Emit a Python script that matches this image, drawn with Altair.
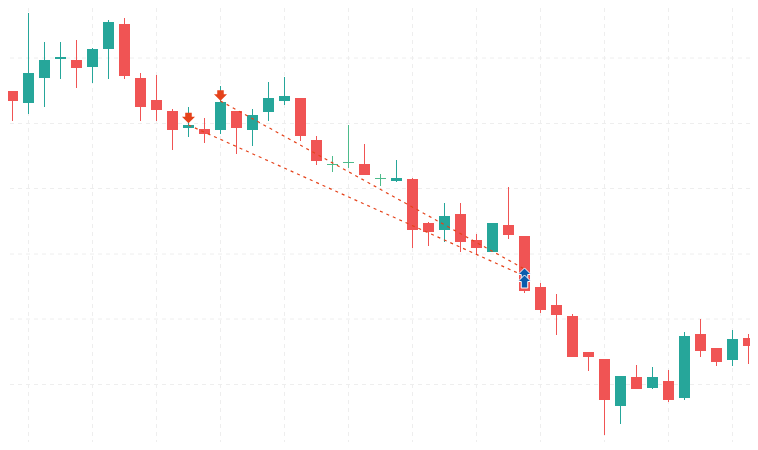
import altair as alt
import pandas as pd

opens = [371,359,347,372,391,390,383,401,426,372,350,339,322,321,320,339,320,338,349,352,310,285,287,286,271,269,271,227,220,236,210,198,225,214,163,145,134,98,91,44,73,62,69,52,116,102,90,112]
highs = [371,359,437,408,408,410,402,430,432,377,375,341,343,332,364,339,341,368,373,352,314,294,325,306,276,290,272,228,247,247,216,227,263,214,167,156,136,98,91,74,85,83,80,118,131,102,120,116]
lows = [359,329,336,343,371,362,367,371,371,329,329,300,313,307,316,296,304,329,345,309,285,278,282,275,264,268,202,204,208,198,195,198,211,157,137,115,93,79,15,26,61,61,48,50,93,84,84,86]
closes = [359,349,377,390,393,382,401,428,374,343,340,320,325,316,348,322,335,352,354,314,289,286,288,275,272,272,220,218,234,208,202,227,215,159,140,135,93,93,50,74,61,73,50,114,99,88,111,104]
doji = [21, 22, 24]

grid_x = [2,6,10,14,18,22,26,30,34,38,42,46]
grid_y = [392,326.5,261.5,196,131,65.5]

line_a_x = [14, 33]
line_a_y = [349, 181]
line_b_x = [12, 33]
line_b_y = [325, 174]

down_x = [12, 14]
down_y = [332, 354.5]
up_x = [33, 33]
up_y = [175.5, 168.5]

RED, GREEN, LIGHT = "#F05454", "#26A69A", "#4DBB8B"
ORANGE, BLUE, GRID = "#E5421A", "#0B5CAD", "#EEEEEE"

colors = [
    LIGHT if i in doji else (GREEN if c >= o else RED)
    for i, (o, c) in enumerate(zip(opens, closes))
]
df = pd.DataFrame({"i": range(len(opens)), "open": opens, "high": highs,
                   "low": lows, "close": closes, "color": colors})

W, H = 742, 434
xs = alt.Scale(domain=[0.71875, 47.09375], range=[0, W], nice=False, zero=False, padding=0)
ys = alt.Scale(domain=[8, 442], range=[H, 0], nice=False, zero=False, padding=0)
X = alt.X("i:Q", scale=xs, axis=None)
Y = alt.Y("y:Q", scale=ys, axis=None)
dash = [4, 4]

gx = alt.Chart(pd.DataFrame({"i": grid_x})).mark_rule(color=GRID, strokeWidth=1, strokeDash=dash).encode(x=X)
gy = alt.Chart(pd.DataFrame({"y": grid_y})).mark_rule(color=GRID, strokeWidth=1, strokeDash=dash).encode(y=Y)

base = alt.Chart(df)
wick = base.mark_rule(strokeWidth=1, clip=True).encode(
    x=X,
    y=alt.Y("low:Q", scale=ys, axis=None),
    y2="high:Q",
    color=alt.Color("color:N", scale=None),
)
body = base.mark_bar(size=11, clip=True, strokeWidth=0).encode(
    x=X,
    y=alt.Y("open:Q", scale=ys, axis=None),
    y2="close:Q",
    color=alt.Color("color:N", scale=None),
)


def trend(xv, yv):
    return alt.Chart(pd.DataFrame({"i": xv, "y": yv})).mark_line(
        color=ORANGE, strokeWidth=1.2, strokeDash=[3, 4]
    ).encode(x=X, y=Y)


DOWN = "M-0.5,-0.8L0.5,-0.8L0.5,-0.2L1,-0.2L0,0.8L-1,-0.2L-0.5,-0.2Z"
UP = "M-0.5,1L0.5,1L0.5,0L1,0L0,-1L-1,0L-0.5,0Z"

down = alt.Chart(pd.DataFrame({"i": down_x, "y": down_y})).mark_point(
    shape=DOWN, size=170, filled=True, color=ORANGE, opacity=1
).encode(x=X, y=Y)
up = alt.Chart(pd.DataFrame({"i": up_x, "y": up_y})).mark_point(
    shape=UP, size=170, filled=True, fill=BLUE, stroke="white", strokeWidth=1, opacity=1
).encode(x=X, y=Y)

chart = alt.layer(
    gx, gy, wick, body, trend(line_a_x, line_a_y), trend(line_b_x, line_b_y), down, up
).properties(
    width=W, height=H, background="white", padding=0, autosize=alt.AutoSizeParams(type="none")
).configure_view(stroke=None)

chart.save("out.html", embed_options={"renderer": "svg", "actions": False})
